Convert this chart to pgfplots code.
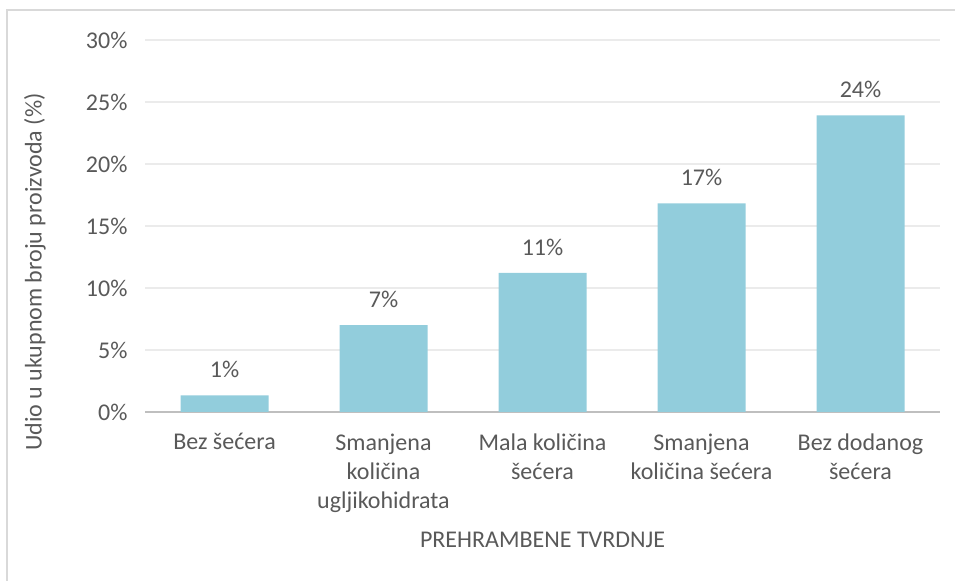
\documentclass[border=0pt]{standalone}
\usepackage{pgfplots}
\pgfplotsset{compat=1.18}
\usepackage{fontspec}
\setmainfont{Carlito}
\definecolor{txt}{HTML}{595959}
\definecolor{barc}{HTML}{92CDDC}
\definecolor{gridc}{HTML}{EBEBEB}
\definecolor{axc}{HTML}{BFBFBF}
\definecolor{framec}{HTML}{D9D9D9}
\begin{document}
\begin{tikzpicture}
\useasboundingbox (0,0) rectangle (955bp,581bp);
\draw[framec, line width=1.2bp] (7bp,0) -- (7bp,571bp) -- (955bp,571bp);
\begin{axis}[
  at={(145bp,169bp)}, anchor=south west,
  scale only axis, width=795bp, height=372bp,
  xmin=-0.5, xmax=4.5, ymin=0, ymax=30,
  ytick={0,5,...,30},
  yticklabel={\pgfmathprintnumber{\tick}\%},
  /pgf/number format/assume math mode=true,
  xtick=data,
  xticklabels={Bez šećera, {Smanjena\\količina\\ugljikohidrata}, {Mala količina\\šećera}, {Smanjena\\količina šećera}, {Bez dodanog\\šećera}},
  font=\fontsize{24bp}{29.3bp}\selectfont,
  tick label style={text=txt},
  xticklabel style={align=center, anchor=north, yshift=-18bp},
  yticklabel style={anchor=east, xshift=-14bp},
  major tick length=0,
  axis x line*=bottom, axis y line*=left,
  y axis line style={draw=none},
  x axis line style={axc, line width=2bp, -},
  ymajorgrids, grid style={gridc, line width=1.2bp},
  ybar, bar width=88bp,
  nodes near coords={\pgfmathprintnumber[fixed,precision=0]{\pgfplotspointmeta}\%},
  nodes near coords style={text=txt, anchor=south, yshift=14bp, /pgf/number format/assume math mode=true},
  xlabel={PREHRAMBENE TVRDNJE},
  xlabel style={text=txt, at={(axis description cs:0.5,0)}, anchor=center, yshift=-128bp},
  ylabel={Udio u ukupnom broju proizvoda (\%)},
  ylabel style={text=txt, at={(axis description cs:-0.1384,0.376)}, anchor=center, rotate=0},
  clip=false,
]
\addplot[fill=barc, draw=none] coordinates {(0,1.34) (1,7.01) (2,11.21) (3,16.82) (4,23.92)};
\end{axis}
\end{tikzpicture}
\end{document}
